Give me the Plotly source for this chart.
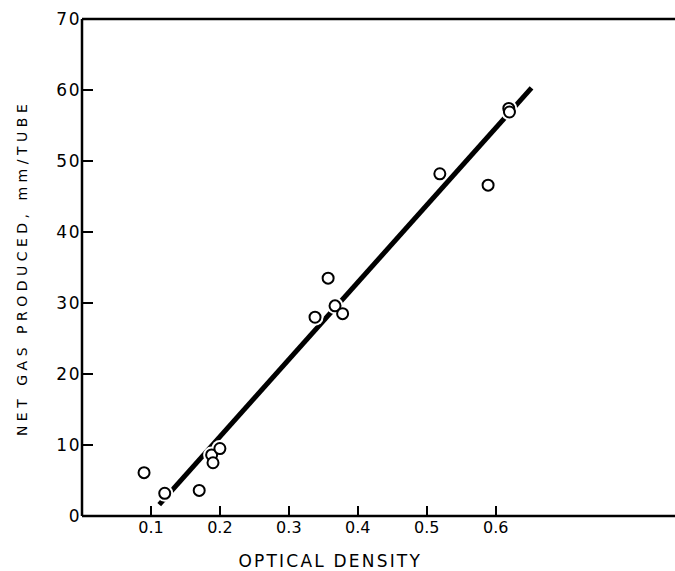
import plotly.graph_objects as go

# Observed data points (optical density vs net gas produced, mm/tube)
od = [0.09, 0.12, 0.17, 0.188, 0.19, 0.20, 0.338, 0.357, 0.367, 0.378, 0.519, 0.589, 0.619, 0.620]
gas = [6.1, 3.2, 3.6, 8.6, 7.5, 9.5, 28.0, 33.5, 29.6, 28.5, 48.2, 46.6, 57.4, 56.9]

# Fitted line endpoints
fit_x = [0.112, 0.652]
fit_y = [1.6, 60.3]

x_ticks = [0.1, 0.2, 0.3, 0.4, 0.5, 0.6]
x_tick_labels = ["0.1", "0.2", "0.3", "0.4", "0.5", "0.6"]
y_ticks = [0, 10, 20, 30, 40, 50, 60, 70]
y_tick_labels = ["0", "10", "20", "30", "40", "50", "60", "70"]

font_family = "DejaVu Sans"

fig = go.Figure()
fig.add_trace(go.Scatter(x=fit_x, y=fit_y, mode="lines",
                         line=dict(color="black", width=5), hoverinfo="skip", showlegend=False))
# white halo to break the line around points
fig.add_trace(go.Scatter(x=od, y=gas, mode="markers",
                         marker=dict(symbol="circle", size=17, color="white", line=dict(width=0)),
                         hoverinfo="skip", showlegend=False))
fig.add_trace(go.Scatter(x=od, y=gas, mode="markers",
                         marker=dict(symbol="circle", size=11, color="white",
                                     line=dict(color="black", width=2)),
                         showlegend=False))

# axis frame: left, top and bottom lines (open on the right)
fig.add_shape(type="line", xref="paper", yref="paper", x0=0, x1=0, y0=0, y1=1,
              line=dict(color="black", width=2.5))
fig.add_shape(type="line", xref="paper", yref="paper", x0=0, x1=1.02, y0=1, y1=1,
              line=dict(color="black", width=2.5))
fig.add_shape(type="line", xref="paper", yref="paper", x0=0, x1=1.02, y0=0, y1=0,
              line=dict(color="black", width=2.5))

fig.add_annotation(text="NET GAS PRODUCED, mm/TUBE", xref="paper", yref="paper",
                   x=-0.104, y=0.50, textangle=-90, showarrow=False,
                   xanchor="center", yanchor="middle",
                   font=dict(family=font_family, size=14, color="black"))
fig.add_annotation(text="OPTICAL DENSITY", xref="paper", yref="paper",
                   x=0.426, y=-0.0905, showarrow=False,
                   xanchor="center", yanchor="middle",
                   font=dict(family=font_family, size=17, color="black"))

fig.update_xaxes(range=[0, 0.8456], tickvals=x_ticks, ticktext=x_tick_labels,
                 ticks="inside", ticklen=10, tickwidth=2, tickcolor="black",
                 showline=False, showgrid=False, zeroline=False,
                 tickfont=dict(family=font_family, size=16, color="black"))
fig.update_yaxes(range=[0, 70], tickvals=y_ticks, ticktext=y_tick_labels,
                 ticks="inside", ticklen=11, tickwidth=2, tickcolor="black",
                 showline=False, showgrid=False, zeroline=False,
                 tickfont=dict(family=font_family, size=17, color="black"))

fig.update_layout(width=675, height=571, margin=dict(l=82, r=10, t=19, b=55),
                  plot_bgcolor="white", paper_bgcolor="white")

post = """
var t = document.querySelectorAll('.annotation-text');
t.forEach(function(e){
  var s = e.textContent;
  if (s.indexOf('NET') === 0) { e.style.letterSpacing = '4.5px'; }
  else { e.style.letterSpacing = '2.2px'; }
});
document.querySelectorAll('.ytick text').forEach(function(e){ e.style.letterSpacing = '1.5px'; });
"""

fig.write_html("out.html", post_script=post, config={"displayModeBar": False, "staticPlot": True})
